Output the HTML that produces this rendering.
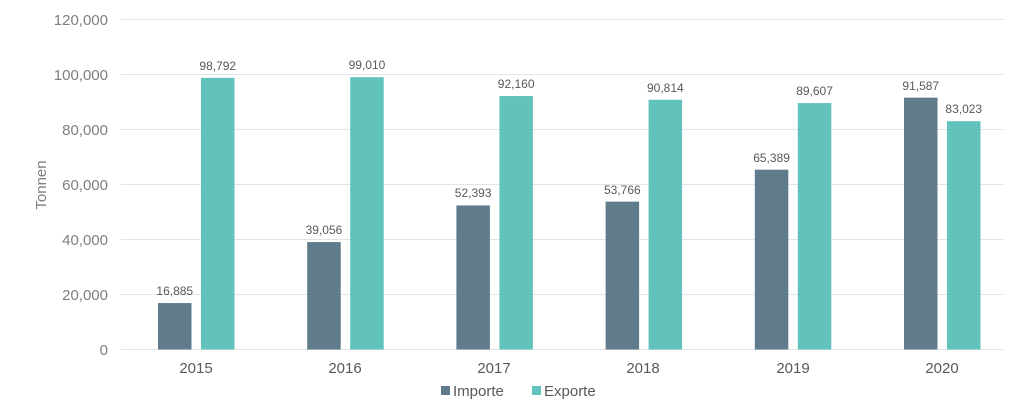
<!DOCTYPE html>
<html><head><style>body{margin:0;background:#fff}</style></head><body>
<svg width="1024" height="405" xmlns="http://www.w3.org/2000/svg" font-family="Liberation Sans, sans-serif">
<g stroke="#dfe5e8" stroke-width="1">
<line x1="121" x2="1004" y1="19.5" y2="19.5"/><line x1="121" x2="1004" y1="74.5" y2="74.5"/>
<line x1="121" x2="1004" y1="129.5" y2="129.5"/><line x1="121" x2="1004" y1="184.5" y2="184.5"/>
<line x1="121" x2="1004" y1="239.5" y2="239.5"/><line x1="121" x2="1004" y1="294.5" y2="294.5"/>
<line x1="121" x2="1004" y1="349.5" y2="349.5"/>
</g>
<g fill="#7f7f7f" font-size="15" text-anchor="end">
<text x="108" y="25">120,000</text><text x="108" y="80">100,000</text><text x="108" y="135">80,000</text>
<text x="108" y="190">60,000</text><text x="108" y="245">40,000</text><text x="108" y="300">20,000</text><text x="108" y="355">0</text>
</g>
<text transform="translate(46,185) rotate(-90)" fill="#7f7f7f" font-size="15" text-anchor="middle">Tonnen</text>
<g fill="#5f7b8c">
<rect x="158" y="303.07" width="33.5" height="46.43"/>
<rect x="307.2" y="242.1" width="33.5" height="107.4"/>
<rect x="456.4" y="205.42" width="33.5" height="144.08"/>
<rect x="605.6" y="201.64" width="33.5" height="147.86"/>
<rect x="754.8" y="169.68" width="33.5" height="179.82"/>
<rect x="904" y="97.64" width="33.5" height="251.86"/>
</g>
<g fill="#62c3bd">
<rect x="201" y="77.82" width="33.5" height="271.68"/>
<rect x="350.2" y="77.22" width="33.5" height="272.28"/>
<rect x="499.4" y="96.06" width="33.5" height="253.44"/>
<rect x="648.6" y="99.76" width="33.5" height="249.74"/>
<rect x="797.8" y="103.08" width="33.5" height="246.42"/>
<rect x="947" y="121.19" width="33.5" height="228.31"/>
</g>
<g fill="#595959" font-size="12" text-anchor="middle">
<text x="174.75" y="295">16,885</text>
<text x="323.95" y="234">39,056</text>
<text x="473.15" y="197">52,393</text>
<text x="622.35" y="194">53,766</text>
<text x="771.55" y="162">65,389</text>
<text x="920.75" y="90">91,587</text>
<text x="217.75" y="70">98,792</text>
<text x="366.95" y="69">99,010</text>
<text x="516.15" y="88">92,160</text>
<text x="665.35" y="92">90,814</text>
<text x="814.55" y="95">89,607</text>
<text x="963.75" y="113">83,023</text>
</g>
<g fill="#595959" font-size="15" text-anchor="middle">
<text x="196" y="373">2015</text><text x="345" y="373">2016</text><text x="494" y="373">2017</text>
<text x="643" y="373">2018</text><text x="793" y="373">2019</text><text x="942" y="373">2020</text>
</g>
<rect x="441" y="386" width="9" height="9" fill="#5f7b8c"/>
<text x="453" y="396" fill="#595959" font-size="15">Importe</text>
<rect x="532" y="386" width="9" height="9" fill="#62c3bd"/>
<text x="544" y="396" fill="#595959" font-size="15">Exporte</text>
</svg>
</body></html>
